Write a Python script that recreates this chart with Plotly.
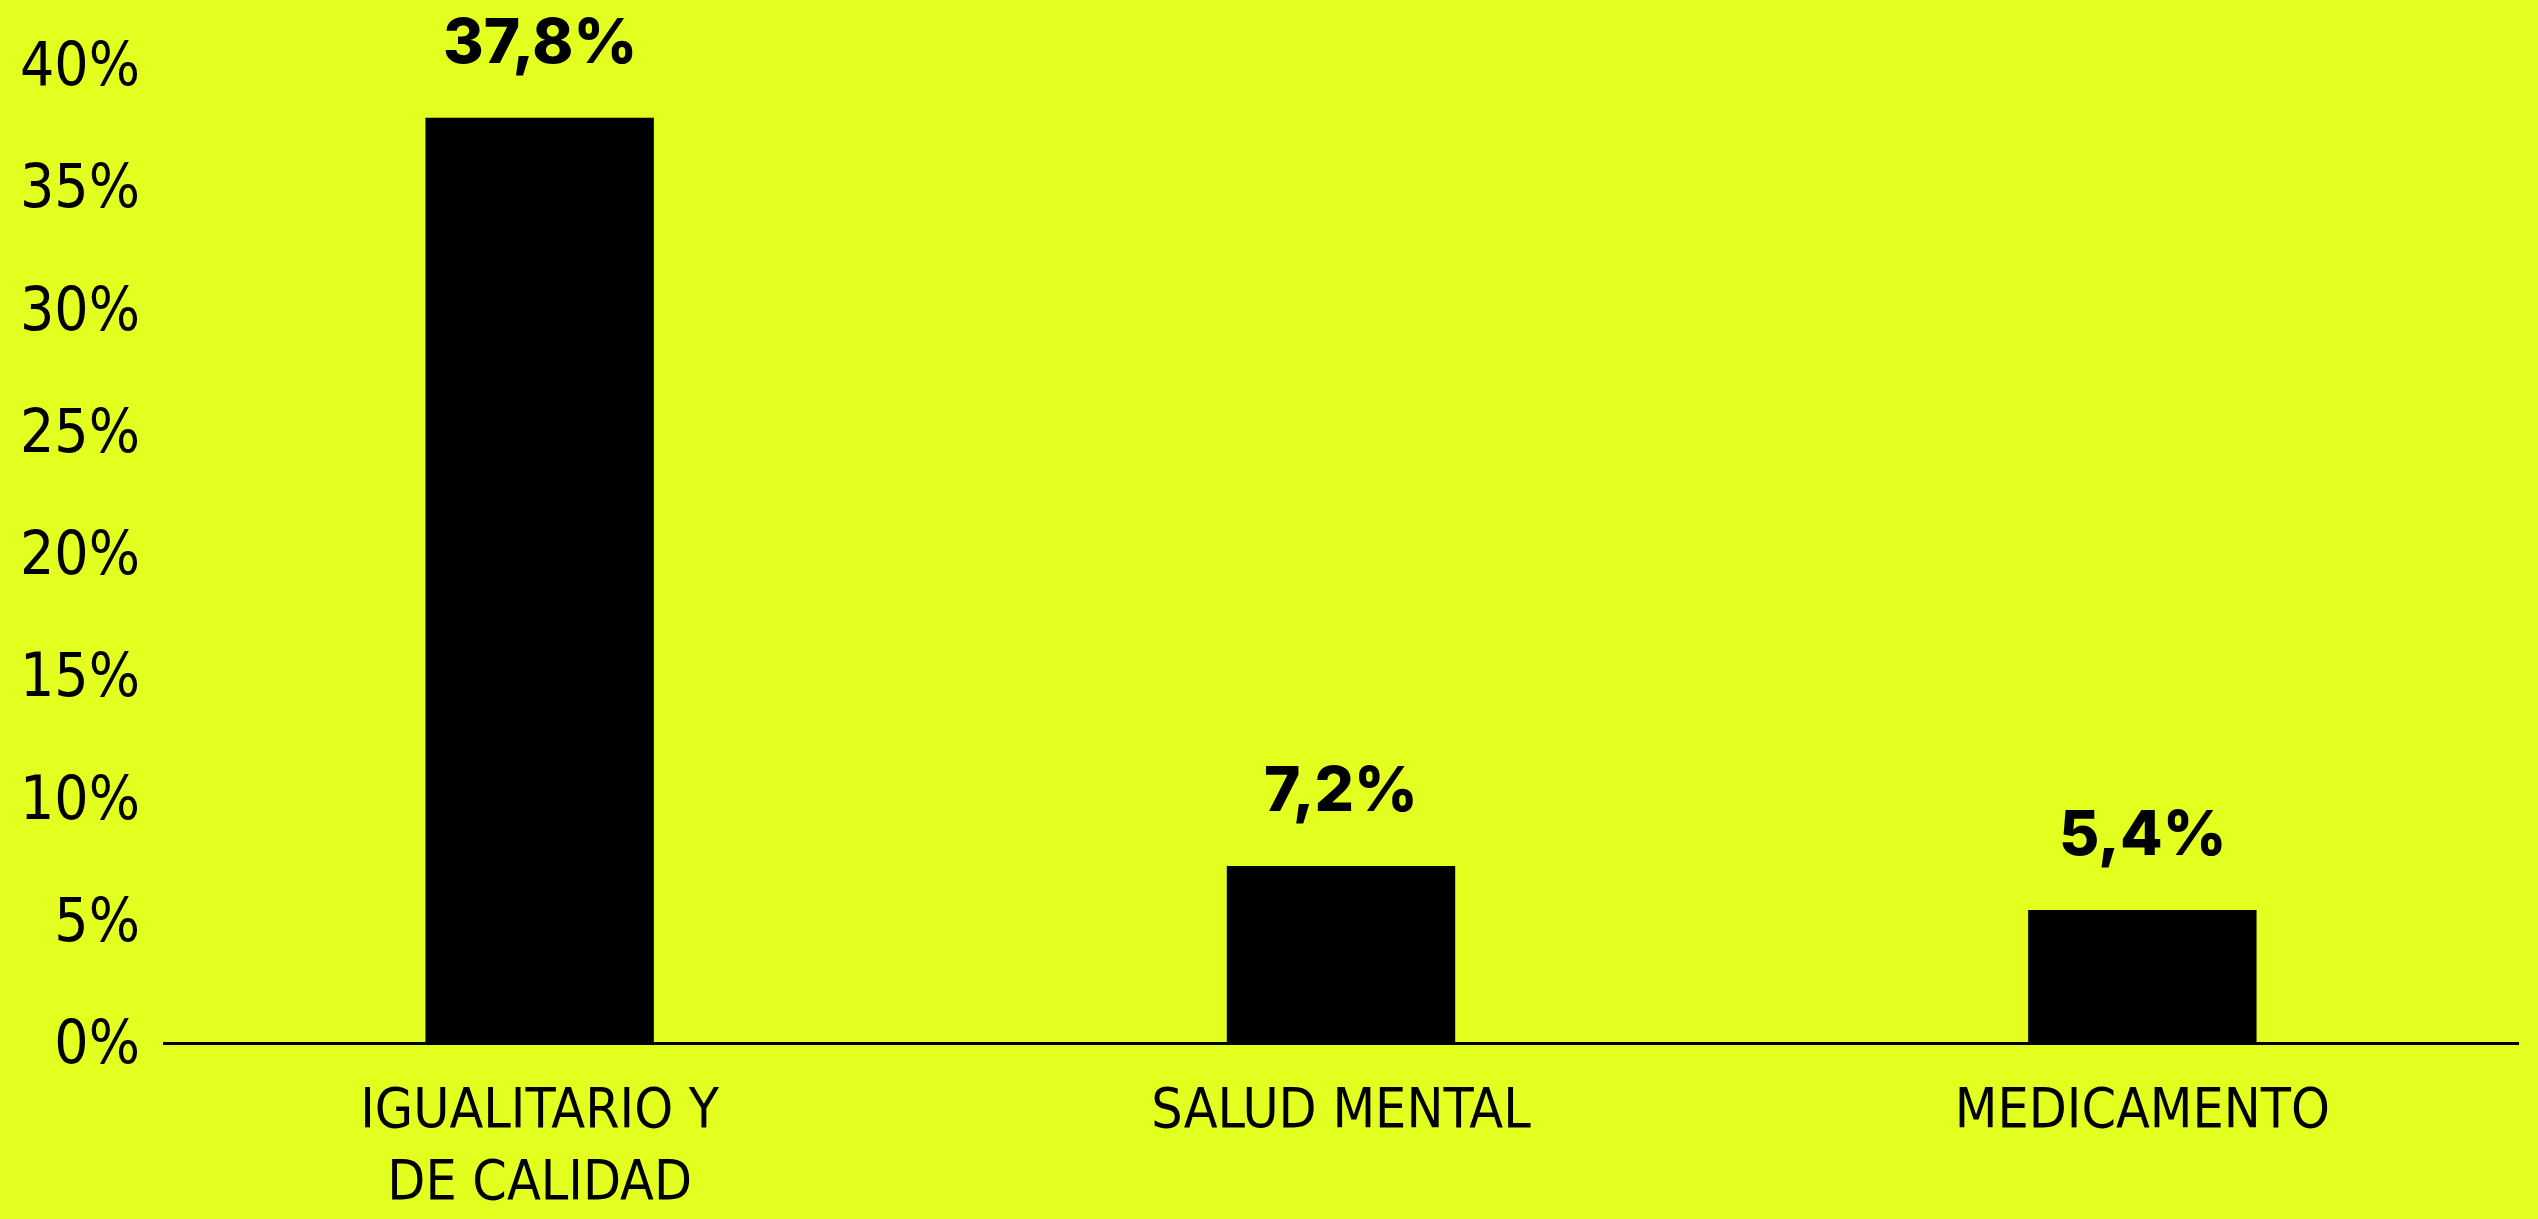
import plotly.graph_objects as go

categories = ["IGUALITARIO Y<br>DE CALIDAD", "SALUD MENTAL", "MEDICAMENTO"]
values = [37.8, 7.2, 5.4]
tick_values = [0, 5, 10, 15, 20, 25, 30, 35, 40]
tick_labels = [f"{v}%" for v in tick_values]
value_labels = [f"{v:.1f}%".replace(".", ",") for v in values]

BG = "#e2ff1f"
COND = "Liberation Sans Narrow, DejaVu Sans Condensed, Roboto, sans-serif"
BOLD = "Inter, Open Sans, Roboto, DejaVu Sans, sans-serif"

fig = go.Figure()
fig.add_trace(go.Bar(
    x=categories, y=values,
    marker=dict(color="#000000", line=dict(width=0)),
    width=0.285,
    hoverinfo="skip",
))

for c, v, t in zip(categories, values, value_labels):
    fig.add_annotation(
        x=c, y=v, text=t, showarrow=False,
        yanchor="middle", yshift=77,
        font=dict(family=BOLD, size=62, color="#000000", weight=800),
    )

fig.update_layout(
    width=2538, height=1219,
    paper_bgcolor=BG, plot_bgcolor=BG,
    margin=dict(l=163, r=19, t=64, b=177, autoexpand=False),
    showlegend=False,
    xaxis=dict(
        range=[-0.47, 2.47], automargin=False,
        showline=True, linecolor="#000000", linewidth=3,
        showgrid=False, zeroline=False,
        ticks="", ticklabelstandoff=16,
        tickfont=dict(family=COND, size=55, color="#000000"),
    ),
    yaxis=dict(
        range=[0, 40], automargin=False,
        tickvals=tick_values, ticktext=tick_labels,
        showline=False, showgrid=False, zeroline=False,
        ticks="", ticklabelstandoff=22,
        tickfont=dict(family=COND, size=60, color="#000000"),
    ),
)

fig.write_html(
    "out.html",
    config={"displayModeBar": False},
    post_script="document.body.style.margin='0';document.body.style.overflow='hidden';document.body.style.background='%s';" % BG,
)
